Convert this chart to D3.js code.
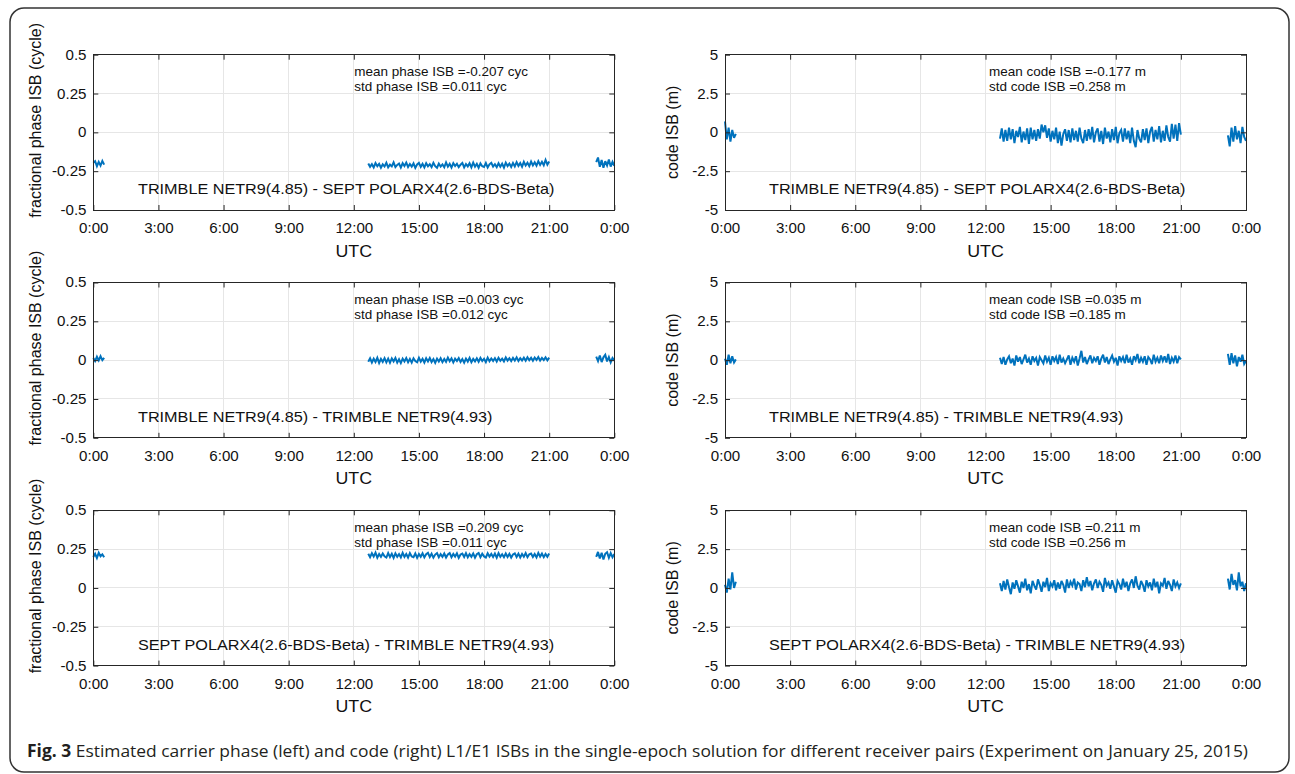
<!DOCTYPE html>
<html lang="en">
<head>
<meta charset="UTF-8">
<title>Estimated carrier phase and code L1/E1 ISBs</title>
<script src="https://d3js.org/d3.v7.min.js"></script>
<style>
    body { margin: 0; background: white; }
    svg text { font-family: "Liberation Sans", Arial, sans-serif; fill: #111; }
    text.caption { font-family: "Open Sans", "Noto Sans", sans-serif; }
</style>
</head>
<body>
<script>

// ---- data ----
var xTickHours = [0, 3, 6, 9, 12, 15, 18, 21, 24];
var xTickLabels = ["0:00", "3:00", "6:00", "9:00", "12:00", "15:00", "18:00", "21:00", "0:00"];
var phaseTicks = [-0.5, -0.25, 0, 0.25, 0.5];
var phaseTickLabels = ["-0.5", "-0.25", "0", "0.25", "0.5"];
var codeTicks = [-5, -2.5, 0, 2.5, 5];
var codeTickLabels = ["-5", "-2.5", "0", "2.5", "5"];

var pairLabels = [
    "TRIMBLE NETR9(4.85) - SEPT POLARX4(2.6-BDS-Beta)",
    "TRIMBLE NETR9(4.85) - TRIMBLE NETR9(4.93)",
    "SEPT POLARX4(2.6-BDS-Beta) - TRIMBLE NETR9(4.93)"
];
var phaseMean = [-0.207, 0.003, 0.209];
var phaseStd = [0.011, 0.012, 0.011];
var codeMean = [-0.177, 0.035, 0.211];
var codeStd = [0.258, 0.185, 0.256];

// three data arcs per panel, sampled every 5 minutes
var segStartMin = [0, 760, 1390];
var stepMin = 5;

// phase ISB, in 0.001 cycle
var phase1A = [-196, -186, -218, -190, -214, -184, -208];
var phase1B = [-200,-222,-205,-226,-198,-218,-203,-228,-206,-220,
    -196,-225,-208,-219,-193,-224,-210,-201,-227,-199,
    -217,-195,-223,-204,-221,-200,-229,-207,-197,-222,
    -203,-226,-199,-219,-205,-224,-196,-218,-228,-201,
    -220,-206,-225,-194,-221,-203,-227,-198,-217,-202,
    -224,-208,-197,-226,-204,-219,-199,-225,-195,-221,
    -203,-228,-200,-218,-223,-198,-226,-206,-196,-220,
    -205,-224,-199,-221,-202,-227,-195,-217,-201,-223,
    -197,-219,-192,-216,-198,-221,-190,-214,-196,-218,
    -188,-213,-193,-215,-186,-210,-190,-212,-178,-208,-187];
var phase1C = [-192, -162, -222, -178, -228, -186, -214, -175, -220, -190, -215];

var phase2A = [14, -6, 22, -2, 25, 0, 15];
var phase2B = [-10,12,-15,9,-12,15,-18,8,-11,13,
    -14,10,-17,11,-8,14,-16,6,-19,10,
    -9,13,-13,8,-16,12,-6,-14,15,-10,
    9,-15,12,-8,14,-12,7,-17,10,-9,
    12,-13,8,-11,16,-7,11,-15,9,-6,
    13,-12,7,-16,10,-9,15,-13,8,-8,
    12,-10,14,-6,9,-13,16,-7,11,-5,
    13,-9,15,-4,10,-8,17,-3,12,-6,
    14,-3,18,-5,13,-2,16,-4,19,0,
    15,-4,17,1,20,-3,14,0,18,-2,16];
var phase2C = [22, -6, 30, -12, 18, 34, -8, 20, -14, 14, -2];

var phase3A = [200, 220, 193, 226, 204, 216, 198];
var phase3B = [220,198,224,202,227,195,218,200,222,204,
    196,225,199,220,193,223,201,218,197,226,
    200,219,196,224,203,198,222,194,218,201,
    223,197,217,226,199,220,195,215,224,198,
    218,201,222,196,216,225,198,219,202,223,
    194,215,221,199,224,197,218,201,222,195,
    217,225,198,220,203,196,223,202,219,199,
    221,195,224,201,217,198,222,200,220,196,
    216,223,199,221,196,219,201,224,198,217,
    222,200,219,197,226,202,221,198,219,201,222];
var phase3C = [200, 232, 190, 226, 184, 220, 230, 194, 224, 198, 218];

// code ISB, in cm
var code1A = [70, -45, 30, -60, 15, -35, -10];
var code1B = [-40,25,-60,15,-55,30,-45,20,-70,10,
    -30,35,-65,5,-50,25,-75,30,-45,15,
    -55,20,-40,50,0,45,-35,25,-60,10,
    -45,30,-70,5,-85,-10,20,-55,15,-65,
    25,-50,10,-60,30,-40,-70,15,-55,20,
    -45,35,-65,0,25,-60,10,-75,30,-40,
    5,-65,20,-50,35,-70,-5,15,-60,25,
    -45,10,-70,30,-55,-95,15,-40,-65,20,
    -50,25,-70,5,35,-60,15,-45,40,-65,
    10,-55,45,-30,-60,55,-40,50,-55,60,-15];
var code1C = [-20, -90, 30, -60, 40, -45, 10, -70, 35, -30, -55];

var code2A = [10, -30, 35, -20, 25, -15, 5];
var code2B = [15,-25,20,-30,5,25,-20,10,-35,30,
    -10,20,-25,5,35,-15,10,-30,25,-5,
    15,-35,20,0,-20,30,-10,15,-30,25,
    -5,20,-25,35,-15,10,-20,5,30,-30,
    15,-10,25,-35,10,60,-15,20,-25,5,
    30,-20,15,-5,25,-30,10,35,-15,20,
    -25,5,30,-10,15,-35,25,-5,20,-20,
    35,-15,10,-30,25,0,40,-20,15,-10,
    25,-30,20,5,-25,35,-10,15,-20,30,
    -5,25,-15,40,-25,15,-10,30,-20,20,5];
var code2C = [40, -30, 45, -20, 30, -40, 20, -10, 35, -25, -5];

var code3A = [20, -30, 60, -10, 100, 0, 40];
var code3B = [30,-20,45,-10,55,5,-40,35,-5,50,
    10,-30,40,0,60,-15,25,-35,45,15,
    -10,55,20,-25,40,5,65,-20,30,10,
    50,-15,35,-5,45,20,-30,55,0,40,
    15,60,-10,35,25,-20,50,5,70,10,
    45,-15,30,55,0,40,20,-25,65,15,
    35,-5,50,10,-30,45,25,-10,60,5,
    40,-20,30,55,0,75,15,-10,45,20,
    -25,50,10,35,-15,60,5,40,-35,30,
    15,65,-5,45,20,-20,55,10,35,0,30];
var code3C = [60, -10, 90, 20, 50, -15, 100, 10, 40, -20, 30];

var phaseSegs = [[phase1A, phase1B, phase1C], [phase2A, phase2B, phase2C], [phase3A, phase3B, phase3C]];
var codeSegs = [[code1A, code1B, code1C], [code2A, code2B, code2C], [code3A, code3B, code3C]];

// ---- layout ----
var W = 1295, H = 774;
var colLeft = [93.3, 725];
var plotW = 521;
var rowTop = [54.7, 282.5, 510.3];
var plotH = 155.3;
var sx = 1.08;   // the figure glyphs are a bit wider than plain Arial
var lineBlue = "#0072BD";

// hyphen minus like the original, not the unicode minus
var f3 = d3.formatLocale({ decimal: ".", thousands: ",", grouping: [3], currency: ["", ""], minus: "-" }).format(".3f");

var svg = d3.select("body").append("svg")
    .attr("width", W)
    .attr("height", H);

// outer frame of the figure
svg.append("rect")
    .attr("x", 10).attr("y", 8)
    .attr("width", 1279).attr("height", 764)
    .attr("rx", 14)
    .attr("fill", "none")
    .attr("stroke", "#333")
    .attr("stroke-width", 1.5);

function panel(col, row) {
    var isPhase = col == 0;
    var left = colLeft[col], top = rowTop[row];
    var g = svg.append("g").attr("transform", "translate(" + left + "," + top + ")");

    var x = d3.scaleLinear().domain([0, 24]).range([0, plotW]);
    var y = d3.scaleLinear()
        .domain(isPhase ? [-0.5, 0.5] : [-5, 5])
        .range([plotH, 0]);
    var yTicks = isPhase ? phaseTicks : codeTicks;
    var yLabels = isPhase ? phaseTickLabels : codeTickLabels;

    // grid
    g.append("g").selectAll("line").data(xTickHours.slice(1, -1)).enter().append("line")
        .attr("x1", d => x(d)).attr("x2", d => x(d))
        .attr("y1", 0).attr("y2", plotH)
        .attr("stroke", "#e6e6e6").attr("shape-rendering", "crispEdges");
    g.append("g").selectAll("line").data(yTicks.slice(1, -1)).enter().append("line")
        .attr("y1", d => y(d)).attr("y2", d => y(d))
        .attr("x1", 0).attr("x2", plotW)
        .attr("stroke", "#e6e6e6").attr("shape-rendering", "crispEdges");

    // data, one path per arc
    var segs = isPhase ? phaseSegs[row] : codeSegs[row];
    var unit = isPhase ? 1000 : 100;
    var line = d3.line()
        .x(d => x(d.t / 60))
        .y(d => y(d.v / unit));
    segs.forEach(function (vals, k) {
        var pts = vals.map((v, i) => ({ t: segStartMin[k] + i * stepMin, v: v }));
        g.append("path")
            .attr("d", line(pts))
            .attr("fill", "none")
            .attr("stroke", lineBlue)
            .attr("stroke-width", 2)
            .attr("stroke-linejoin", "miter")
            .attr("stroke-miterlimit", 3);
    });

    // axes: inward ticks on all four sides
    var xb = g.append("g").attr("transform", "translate(0," + plotH + ")")
        .call(d3.axisBottom(x).tickValues(xTickHours)
            .tickFormat((d, i) => xTickLabels[i])
            .tickSizeInner(-5).tickSizeOuter(0).tickPadding(13));
    var xt = g.append("g")
        .call(d3.axisTop(x).tickValues(xTickHours).tickFormat("")
            .tickSizeInner(-5).tickSizeOuter(0));
    var yl = g.append("g")
        .call(d3.axisLeft(y).tickValues(yTicks)
            .tickFormat((d, i) => yLabels[i])
            .tickSizeInner(-5).tickSizeOuter(0).tickPadding(6.3));
    var yr = g.append("g").attr("transform", "translate(" + plotW + ",0)")
        .call(d3.axisRight(y).tickValues(yTicks).tickFormat("")
            .tickSizeInner(-5).tickSizeOuter(0));

    [xb, xt, yl, yr].forEach(function (a) {
        a.select(".domain").remove();
        a.selectAll(".tick line").attr("stroke", "#262626");
        a.selectAll("text")
            .attr("font-family", null)
            .attr("font-size", 14)
            .attr("fill", "#111")
            .attr("transform", "scale(" + sx + ",1)");
    });

    g.append("rect")
        .attr("width", plotW).attr("height", plotH)
        .attr("fill", "none")
        .attr("stroke", "#262626")
        .attr("stroke-width", 1)
        .attr("shape-rendering", "crispEdges");

    // statistics
    var what = isPhase ? "phase" : "code";
    var u = isPhase ? " cyc" : " m";
    var m = isPhase ? phaseMean[row] : codeMean[row];
    var s = isPhase ? phaseStd[row] : codeStd[row];
    var statX = isPhase ? 261 : 264;
    [["mean " + what + " ISB =" + f3(m) + u, 21.3], ["std " + what + " ISB =" + f3(s) + u, 36.3]]
        .forEach(function (d) {
            g.append("text")
                .attr("transform", "translate(" + statX + "," + d[1] + ") scale(" + sx + ",1)")
                .attr("font-size", 12.5)
                .text(d[0]);
        });

    // receiver pair
    g.append("text")
        .attr("transform", "translate(" + (isPhase ? 44.7 : 44) + ",139.3) scale(" + sx + ",1)")
        .attr("font-size", 15)
        .text(pairLabels[row]);

    // axis titles
    g.append("text")
        .attr("transform", "translate(" + (plotW / 2) + "," + (plotH + 46.5) + ") scale(" + sx + ",1)")
        .attr("text-anchor", "middle")
        .attr("font-size", 16.5)
        .text("UTC");

    g.append("text")
        .attr("transform", isPhase
            ? "translate(" + (-52) + "," + (plotH / 2 - 12) + ") rotate(-90)"
            : "translate(" + (-47) + "," + (plotH / 2) + ") rotate(-90)")
        .attr("text-anchor", "middle")
        .attr("font-size", 16)
        .text(isPhase ? "fractional phase ISB (cycle)" : "code ISB (m)");
}

for (var r = 0; r < 3; r++) {
    panel(0, r);
    panel(1, r);
}

// caption
var cap = svg.append("text")
    .attr("class", "caption")
    .attr("x", 27).attr("y", 757)
    .attr("font-size", 17)
    .attr("textLength", 1221)
    .attr("lengthAdjust", "spacingAndGlyphs");
cap.append("tspan").attr("font-weight", "bold").attr("fill", "#231f20").text("Fig. 3");
cap.append("tspan").attr("fill", "#231f20")
    .text(" Estimated carrier phase (left) and code (right) L1/E1 ISBs in the single-epoch solution for different receiver pairs (Experiment on January 25, 2015)");

</script>
</body>
</html>
